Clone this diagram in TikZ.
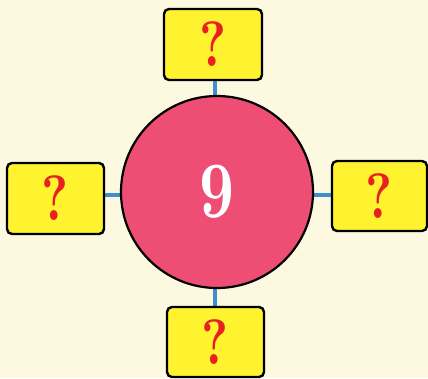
\documentclass[tikz,border=0pt]{standalone}
\font\qfnt="[lmroman10-bold.otf]:extend=0.78" at 64pt
\font\nfnt="[lmroman10-bold.otf]:extend=0.76" at 80pt
\definecolor{bg}{HTML}{FCF9E0}
\definecolor{boxy}{HTML}{FFF22E}
\definecolor{qred}{HTML}{E8201F}
\definecolor{pink}{HTML}{EF4E74}
\definecolor{lineblue}{HTML}{3D8FD0}
\tikzset{
  qbox/.style={draw=black, line width=2.4pt, fill=boxy, rounded corners=5pt, inner sep=0pt, text=qred, font=\qfnt},
  link/.style={draw=lineblue, line width=4pt},
}
\begin{document}
\begin{tikzpicture}[x=1pt,y=-1pt]
\fill[bg] (0,0) rectangle (428,378);
\useasboundingbox (0,0) rectangle (428,378);
\path[link] (215,80) -- (215,110);
\path[link] (215,270) -- (215,307);
\path[link] (104,195) -- (130,195);
\path[link] (300,195) -- (332,195);
\node[circle, draw=black, line width=2.2pt, fill=pink, minimum size=192pt, inner sep=0pt, text=white, font=\nfnt] (c) at (217,192) {9};
\node[qbox, minimum width=98pt, minimum height=71pt] (t) at (213,44.5) {?};
\node[qbox, minimum width=97pt, minimum height=71pt] (l) at (55.5,198.5) {?};
\node[qbox, minimum width=95pt, minimum height=70pt] (r) at (379.5,196) {?};
\node[qbox, minimum width=97pt, minimum height=70pt] (b) at (215.5,342) {?};
\end{tikzpicture}
\end{document}
